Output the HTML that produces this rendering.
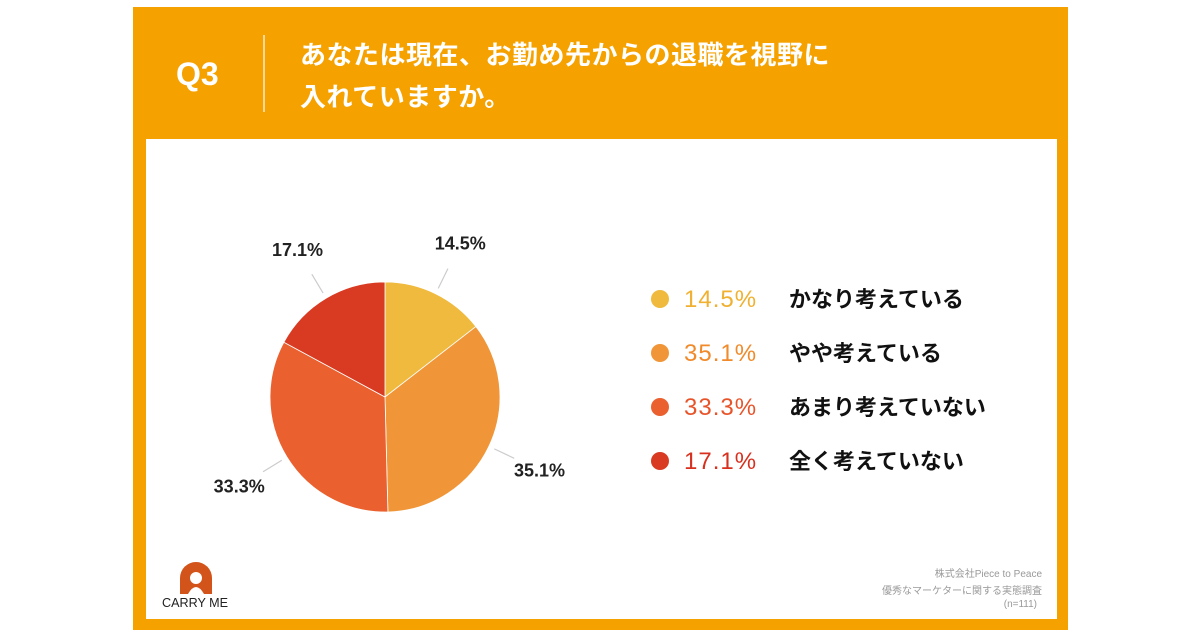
<!DOCTYPE html>
<html><head><meta charset="utf-8"><style>
html,body{margin:0;padding:0;background:#fff;width:1200px;height:630px;overflow:hidden;font-family:"Liberation Sans","Noto Sans CJK JP",sans-serif}
#panel{position:absolute;left:133px;top:7px;width:935px;height:623px;background:#F5A100}
#card{position:absolute;left:146px;top:139px;width:911px;height:480px;background:#fff}
#q{position:absolute;left:176px;top:56px;color:#fff;font-size:32px;font-weight:bold}
#div{position:absolute;left:263px;top:35px;width:1.5px;height:77px;background:#fbd89a}
#title{position:absolute;left:300px;top:34px;color:#fff;font-size:26px;letter-spacing:0.5px;line-height:42px;font-weight:bold}
.t{position:absolute;white-space:nowrap}
</style></head><body>
<div id="panel"></div>
<div id="card"></div>
<div id="q">Q3</div>
<div id="div"></div>
<div id="title">あなたは現在、お勤め先からの退職を視野に<br>入れていますか。</div>
<svg id="chart" width="1200" height="630" style="position:absolute;left:0;top:0"></svg>
<div class="t" style="right:158px;top:565px;font-size:10px;color:#999">株式会社Piece to Peace</div>
<div class="t" style="right:158px;top:582px;font-size:10px;color:#999">優秀なマーケターに関する実態調査</div>
<div class="t" style="right:163px;top:599px;font-size:10px;color:#999">(n=111)</div>
<svg width="80" height="56" style="position:absolute;left:160px;top:560px">
<path d="M20 34 L20 18 A16 16 0 0 1 52 18 L52 34 Z" fill="#D2541A"/>
<circle cx="36" cy="18" r="6" fill="#fff"/>
<path d="M28 34 Q36 20 44 34 Z" fill="#fff"/>
<text x="2" y="47" font-size="12.5" font-family="Liberation Sans" fill="#222" textLength="66" lengthAdjust="spacingAndGlyphs">CARRY ME</text>
</svg>
<script>
const categories=["かなり考えている","やや考えている","あまり考えていない","全く考えていない"];
const values=[14.5,35.1,33.3,17.1];
const labels=["14.5%","35.1%","33.3%","17.1%"];
const colors=["#EFBA3D","#F09638","#EA602E","#D93A22"];
const textColors=["#F0B030","#F08A2A","#E8542A","#D8301E"];
const svg=document.getElementById('chart');
const NS='http://www.w3.org/2000/svg';
const cx=385,cy=397,r=115;
const total=values.reduce((a,b)=>a+b,0);
function pt(a,rr){return [cx+rr*Math.sin(a),cy-rr*Math.cos(a)];}
let a0=0;
values.forEach((v,i)=>{
  const a1=a0+v/total*2*Math.PI;
  const p0=pt(a0,r),p1=pt(a1,r);
  const large=(a1-a0)>Math.PI?1:0;
  const p=document.createElementNS(NS,'path');
  p.setAttribute('d',`M${cx},${cy} L${p0[0]},${p0[1]} A${r},${r} 0 ${large} 1 ${p1[0]},${p1[1]} Z`);
  p.setAttribute('fill',colors[i]);
  p.setAttribute('stroke','#fff');p.setAttribute('stroke-width','0.8');
  
  
  svg.appendChild(p);
  const am=(a0+a1)/2;
  const l0=pt(am,r+6),l1=pt(am,r+28),lt=pt(am,r+56);
  const ln=document.createElementNS(NS,'line');
  ln.setAttribute('x1',l0[0]);ln.setAttribute('y1',l0[1]);ln.setAttribute('x2',l1[0]);ln.setAttribute('y2',l1[1]);
  ln.setAttribute('stroke','#ccc');ln.setAttribute('stroke-width','1.2');
  
  
  svg.appendChild(ln);
  const t=document.createElementNS(NS,'text');
  t.setAttribute('x',lt[0]);t.setAttribute('y',lt[1]+6);t.setAttribute('text-anchor','middle');
  t.setAttribute('font-size','18');t.setAttribute('font-weight','bold');t.setAttribute('fill','#222');
  t.setAttribute('font-family','Liberation Sans');
  t.textContent=labels[i];
  
  
  svg.appendChild(t);
  const y=299+i*54;
  const c=document.createElementNS(NS,'circle');
  c.setAttribute('cx',660);c.setAttribute('cy',y);c.setAttribute('r',9);c.setAttribute('fill',colors[i]);
  
  
  svg.appendChild(c);
  const tp=document.createElementNS(NS,'text');
  tp.setAttribute('x',684);tp.setAttribute('y',y+8);tp.setAttribute('font-size','24');tp.setAttribute('fill',textColors[i]);
  tp.setAttribute('letter-spacing','1');
  tp.setAttribute('font-family','Liberation Sans');
  tp.textContent=labels[i];
  
  
  svg.appendChild(tp);
  const tc=document.createElementNS(NS,'text');
  tc.setAttribute('x',789);tc.setAttribute('y',y+8);tc.setAttribute('font-size','22');tc.setAttribute('font-weight','bold');tc.setAttribute('fill','#111');
  tc.setAttribute('font-family','Liberation Sans, Noto Sans CJK JP, sans-serif');
  tc.textContent=categories[i];
  
  
  svg.appendChild(tc);
  a0=a1;
});
</script>
</body></html>
